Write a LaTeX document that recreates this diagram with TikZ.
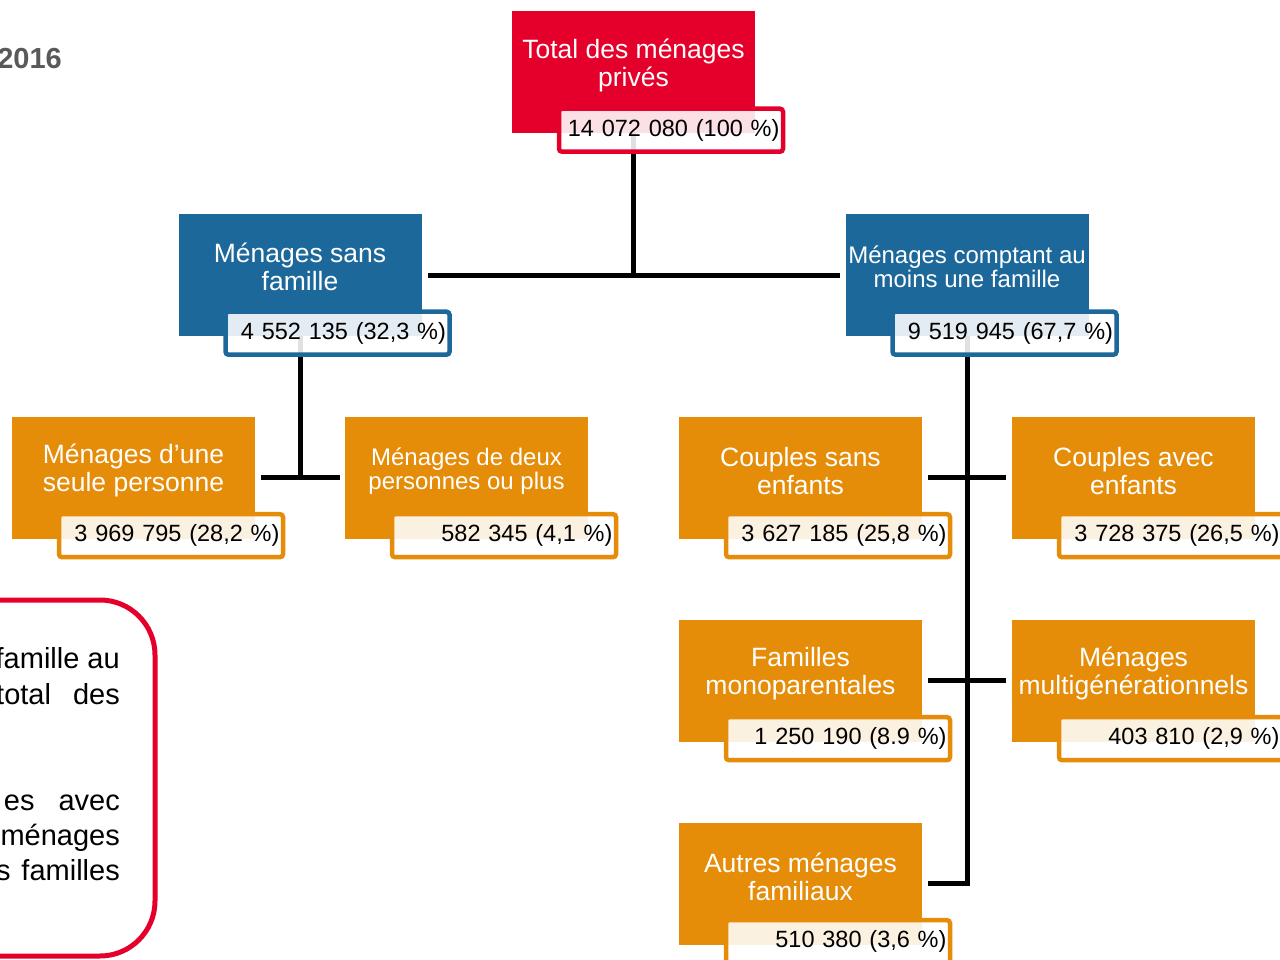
\documentclass[tikz,border=0pt]{standalone}
\usepackage{fontspec}
\setmainfont{Liberation Sans}
\usetikzlibrary{calc}
\definecolor{cred}{RGB}{228,0,43}
\definecolor{cblue}{RGB}{29,104,155}
\definecolor{corange}{RGB}{229,140,8}
\definecolor{cgray}{RGB}{89,89,89}
\begin{document}
\begin{tikzpicture}[x=1pt,y=-1pt,
  mainbox/.style={fill=#1, minimum width=243pt, minimum height=122pt, inner sep=0pt},
  maintext/.style={text=white, align=center, font=\fontsize{26.5}{28}\selectfont, inner sep=0pt},
  smalltext/.style={text=white, align=center, font=\fontsize{24}{24}\selectfont, inner sep=0pt},
  valbox/.style={draw=#1, line width=4.5pt, fill=white, fill opacity=0.88, text opacity=1, rounded corners=3pt, text width=217pt, inner xsep=3.5pt, inner ysep=0pt, minimum height=43pt, align=right, font=\fontsize{23.5}{23.5}\selectfont},
  link/.style={line width=5pt, black},
  note/.style={anchor=base east, inner sep=0pt, font=\fontsize{29}{35}\selectfont}
]
\path[use as bounding box] (0,0) rectangle (1280,960);
\clip (0,0) rectangle (1280,960);

% title fragment
\node[anchor=base east, inner sep=0pt, text=cgray, font=\fontsize{29}{29}\selectfont\bfseries] (year) at (62,69) {2016};

% main boxes
\node[mainbox=cred] (tot) at (633.5,72) {};
\node[mainbox=cblue] (sans) at (300,275) {};
\node[mainbox=cblue] (fam) at (967,275) {};
\node[mainbox=corange] (seule) at (133.5,477.5) {};
\node[mainbox=corange] (deux) at (466.5,477.5) {};
\node[mainbox=corange] (csans) at (800.5,477.5) {};
\node[mainbox=corange] (cavec) at (1133.5,477.5) {};
\node[mainbox=corange] (mono) at (800.5,680.5) {};
\node[mainbox=corange] (multi) at (1133.5,680.5) {};
\node[mainbox=corange] (autres) at (800.5,883.5) {};

% box texts
\node[maintext] (tot-t) at ([yshift=-54.5pt]tot.north) {Total des ménages\\privés};
\node[maintext] (sans-t) at ([yshift=-53pt]sans.north) {Ménages sans\\famille};
\node[smalltext] (fam-t) at ([yshift=-53pt]fam.north) {Ménages comptant au\\moins une famille};
\node[maintext] (seule-t) at ([yshift=-54.5pt]seule.north) {Ménages d’une\\seule personne};
\node[smalltext] (deux-t) at ([yshift=-54.5pt]deux.north) {Ménages de deux\\personnes ou plus};
\node[maintext] (csans-t) at ([yshift=-54.5pt]csans.north) {Couples sans\\enfants};
\node[maintext] (cavec-t) at ([yshift=-54.5pt]cavec.north) {Couples avec\\enfants};
\node[maintext] (mono-t) at ([yshift=-54.5pt]mono.north) {Familles\\monoparentales};
\node[maintext] (multi-t) at ([yshift=-54.5pt]multi.north) {Ménages\\multigénérationnels};
\node[maintext] (autres-t) at ([yshift=-54.5pt]autres.north) {Autres ménages\\familiaux};

% connectors
\draw[link] (tot.south) -- (tot.south |- sans.east);
\draw[link] ([xshift=6pt]sans.east) -- ([xshift=-5pt]fam.west);
\draw[link] (sans.south) -- (sans.south |- seule.east);
\draw[link] ([xshift=6pt]seule.east) -- ([xshift=-5pt]deux.west);
\draw[link] (fam.south) -- (fam.south |- autres.east) -- ([xshift=6pt]autres.east);
\draw[link] ([xshift=6pt]csans.east) -- ([xshift=-6pt]cavec.west);
\draw[link] ([xshift=6pt]mono.east) -- ([xshift=-6pt]multi.west);

% value labels
\node[valbox=cred] (tot-v) at ([xshift=37.5pt,yshift=3pt]tot.south) {14 072 080 (100 \%)};
\node[valbox=cblue] (sans-v) at ([xshift=37.5pt,yshift=3pt]sans.south) {4 552 135 (32,3 \%)};
\node[valbox=cblue] (fam-v) at ([xshift=37.5pt,yshift=3pt]fam.south) {9 519 945 (67,7 \%)};
\node[valbox=corange] (seule-v) at ([xshift=37.5pt,yshift=3pt]seule.south) {3 969 795 (28,2 \%)};
\node[valbox=corange] (deux-v) at ([xshift=37.5pt,yshift=3pt]deux.south) {582 345 (4,1 \%)};
\node[valbox=corange] (csans-v) at ([xshift=37.5pt,yshift=3pt]csans.south) {3 627 185 (25,8 \%)};
\node[valbox=corange] (cavec-v) at ([xshift=37.5pt,yshift=3pt]cavec.south) {3 728 375 (26,5 \%)};
\node[valbox=corange] (mono-v) at ([xshift=37.5pt,yshift=3pt]mono.south) {1 250 190 (8.9 \%)};
\node[valbox=corange] (multi-v) at ([xshift=37.5pt,yshift=3pt]multi.south) {403 810 (2,9 \%)};
\node[valbox=corange] (autres-v) at ([xshift=37.5pt,yshift=3pt]autres.south) {510 380 (3,6 \%)};

% note frame
\draw[cred, line width=5pt, rounded corners=55pt] (-200,600) rectangle (155,956);
\node[note] (n1) at (120,668) {famille au};
\node[note] (n2) at (120,704) {total\hspace{22pt}des};
\node[note] (n3) at (120,810) {es\hspace{24pt}avec};
\node[note] (n4) at (120,845) {ménages};
\node[note] (n5) at (120,880) {s\hspace{11pt}familles};
\end{tikzpicture}
\end{document}
